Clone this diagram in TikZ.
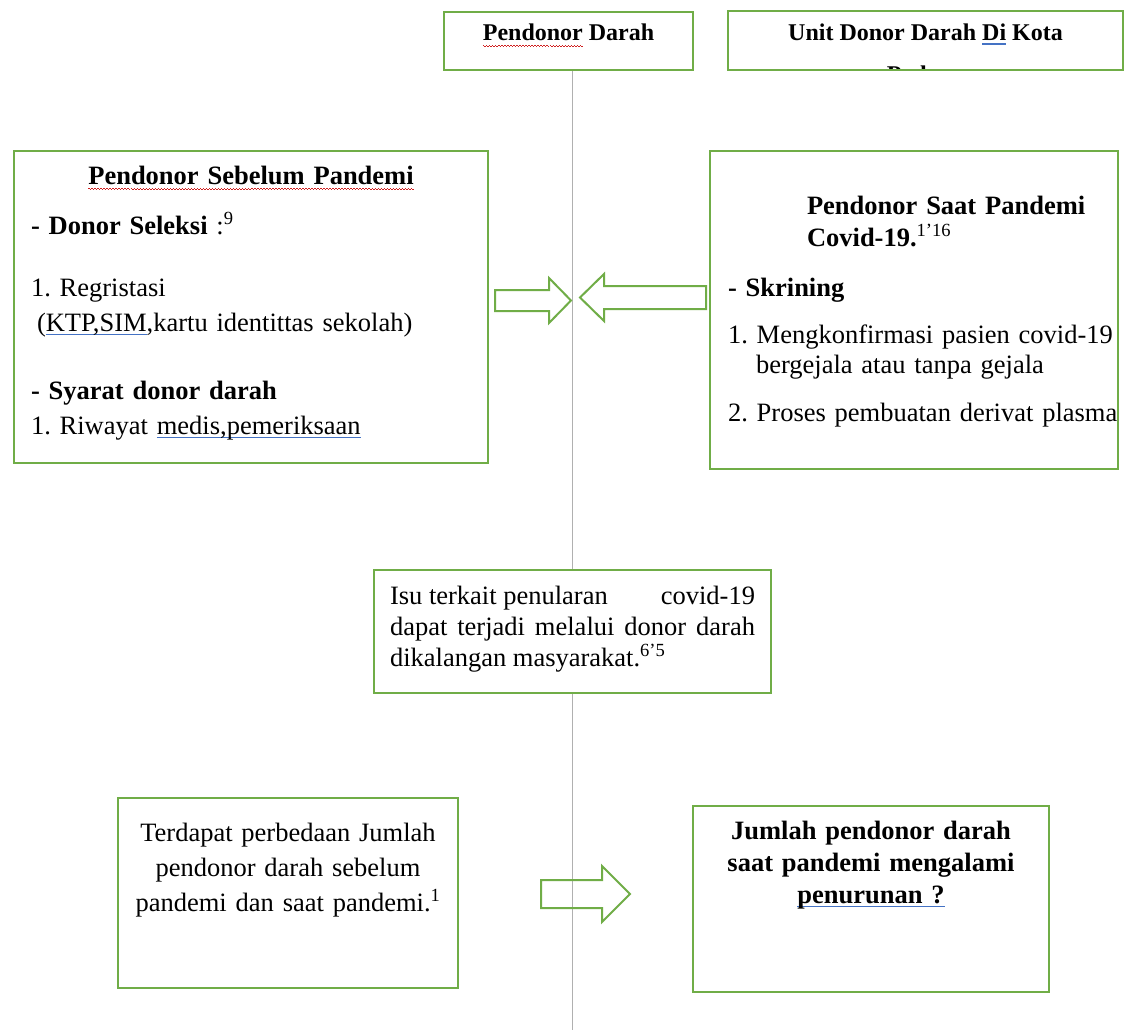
\documentclass[tikz,border=0pt]{standalone}
\usepackage{fontspec}
\setmainfont{Liberation Serif}
\usetikzlibrary{positioning,calc}

\definecolor{boxgreen}{HTML}{70AD47}
\definecolor{spinegray}{HTML}{B0B0B0}
\definecolor{spellred}{HTML}{D02020}
\definecolor{grammarblue}{HTML}{4472C4}

\newsavebox\markbox
\newcommand\spellwave[1]{\leavevmode\sbox\markbox{#1}%
  \rlap{\color{spellred}\hbox to\wd\markbox{\xleaders\hbox{\rule[-5pt]{1.5pt}{0.8pt}\rule[-6.2pt]{1.5pt}{0.8pt}}\hfil}}\usebox\markbox}
\newcommand\grammarline[1]{\leavevmode\sbox\markbox{#1}%
  \rlap{\color{grammarblue}\rule[-4pt]{\wd\markbox}{1.5pt}}\usebox\markbox}

\tikzset{
  box/.style={draw=boxgreen, line width=2pt, anchor=north west, inner ysep=0pt},
  body/.style={font=\fontsize{26.5}{35}\selectfont},
  headtext/.style={font=\fontsize{24}{28}\selectfont\bfseries},
  spine/.style={draw=spinegray, line width=1.5pt},
  blockarrow/.style={draw=boxgreen, line width=2pt, line join=miter}
}

\begin{document}
\frenchspacing
\begin{tikzpicture}[x=1pt, y=-1pt]
\useasboundingbox[fill=white] (0,0) rectangle (1124,1030);

% header boxes
\node[box, headtext, minimum width=249pt, inner xsep=0pt, text height=29pt, text depth=29pt] (darah) at (443,11)
{\spellwave{Pendonor} Darah};
\node[box, headtext, minimum width=395pt, inner xsep=0pt, text height=30pt, text depth=29pt] (unit) at (727,10)
{Unit Donor Darah \grammarline{Di} Kota};
\begin{scope}
  \clip (unit.north west) rectangle ([yshift=2pt]unit.south east);
  \node[headtext, anchor=base] (unitcut) at ([yshift=-12pt]unit.south) {Padang};
\end{scope}

% before / during pandemic
\node[box, body, text width=440pt, inner xsep=17pt, align=left, text height=33pt, text depth=279pt] (sebelum) at (13,150)
{\makebox[\linewidth]{\textbf{\spellwave{Pendonor Sebelum Pandemi}}}\\[15pt]
\textbf{- Donor Seleksi} :\textsuperscript{9}\\[27pt]
1. Regristasi\\
\hspace*{6pt}(\grammarline{KTP,SIM},kartu identittas sekolah)\\[33pt]
\textbf{- Syarat donor darah}\\
1. Riwayat \grammarline{medis,pemeriksaan}};

\node[box, font=\fontsize{26.5}{31}\selectfont, text width=372pt, inner xsep=18pt, align=left, text height=63pt, text depth=255pt] (saat) at (709,150)
{\hspace*{79pt}\textbf{Pendonor Saat Pandemi}\\[1pt]
\hspace*{79pt}\textbf{Covid-19.}\textsuperscript{1’16}\\[19pt]
\textbf{- Skrining}\\[16pt]
\mbox{1. Mengkonfirmasi pasien covid-19}\\[-1pt]
\hspace*{28pt}bergejala atau tanpa gejala\\[17pt]
\mbox{2. Proses pembuatan derivat plasma}};

% issue
\node[box, font=\fontsize{26.5}{31}\selectfont, text width=365pt, inner xsep=16pt, align=justify, text height=34pt, text depth=89pt] (isu) at (373,569)
{Isu terkait penularan\hfill covid-19\\
dapat terjadi melalui donor darah\linebreak
dikalangan masyarakat.\textsuperscript{6’5}};

% conclusion
\node[box, body, text width=320pt, inner xsep=10pt, align=center, text height=43pt, text depth=147pt] (beda) at (117,797)
{Terdapat perbedaan Jumlah\\ pendonor darah sebelum\\ pandemi dan saat pandemi.\textsuperscript{1}};
\node[box, font=\fontsize{26.5}{32}\selectfont\bfseries, text width=320pt, inner xsep=18pt, align=center, text height=33pt, text depth=153pt] (turun) at (692,805)
{Jumlah pendonor darah\\ saat pandemi mengalami\\ \grammarline{penurunan ?}};

% spine
\coordinate (spineend) at (isu.south |- 0,1030);
\draw[spine] (isu.north |- darah.south) -- (isu.north);
\draw[spine] (isu.south) -- (spineend);

% block arrows
\draw[blockarrow] (495,290) -- (549,290) -- (549,278) -- (571,300.5) -- (549,323) -- (549,311) -- (495,311) -- cycle;
\draw[blockarrow] (706,286) -- (604,286) -- (604,274) -- (580,297.5) -- (604,321) -- (604,309) -- (706,309) -- cycle;
\draw[blockarrow] (541,880) -- (602,880) -- (602,866) -- (630,894) -- (602,922) -- (602,908) -- (541,908) -- cycle;
\end{tikzpicture}
\end{document}
